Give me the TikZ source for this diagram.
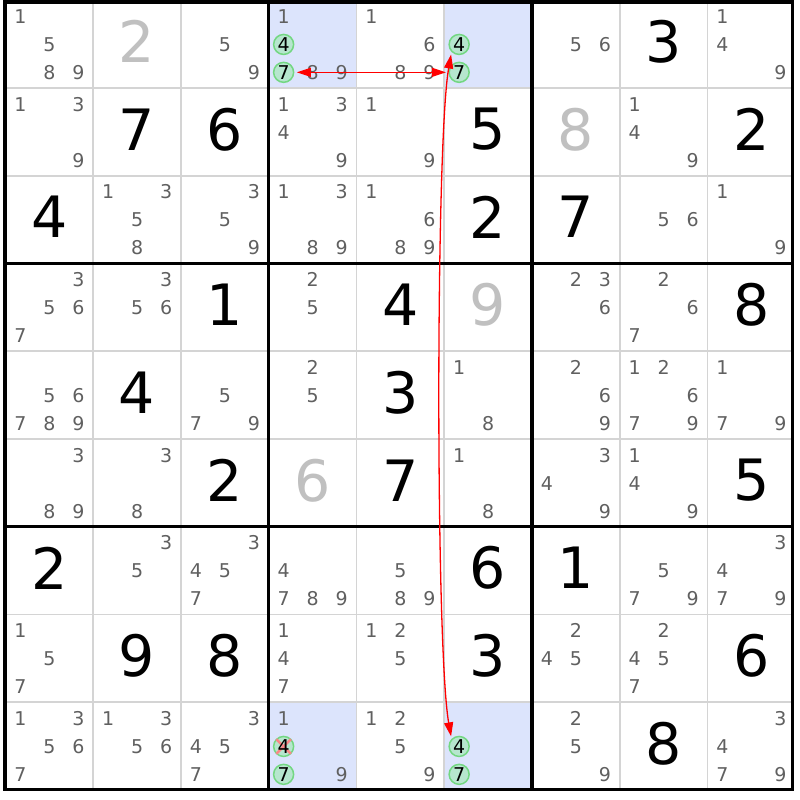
\documentclass[tikz,border=0pt]{standalone}
\usepackage{fontspec}
\setmainfont{DejaVu Sans}
\usetikzlibrary{arrows.meta}
\definecolor{candc}{RGB}{96,96,96}
\definecolor{givengray}{RGB}{192,192,192}
\definecolor{hlblue}{RGB}{220,228,252}
\definecolor{thinc}{RGB}{212,212,212}
\definecolor{cfill}{RGB}{182,230,206}
\definecolor{cdraw}{RGB}{115,215,130}
\definecolor{xred}{RGB}{250,135,135}
\tikzset{
  candtxt/.style={inner sep=0pt, text=candc, font=\fontsize{19}{19}\selectfont},
  circtxt/.style={inner sep=0pt, text=black, font=\fontsize{19}{19}\selectfont},
  givenblack/.style={inner sep=0pt, text=black, font=\fontsize{57}{57}\selectfont},
  givengrey/.style={inner sep=0pt, text=givengray, font=\fontsize{57}{57}\selectfont},
  hcirc/.style={circle, minimum size=20pt, inner sep=0pt, fill=cfill, draw=cdraw, line width=1.5pt},
  thinline/.style={draw=thinc, line width=1.6pt},
  thickline/.style={draw=black, line width=3.2pt},
  hlcell/.style={fill=hlblue},
  xcross/.style={draw=xred, line width=2.5pt, shorten <=0.5pt, shorten >=0.5pt},
  redarrow/.style={draw=red, line width=1.3pt, {Triangle[length=14pt,width=9pt]}-{Triangle[length=14pt,width=9pt]}, shorten <=2.5pt, shorten >=2.5pt}
}
\newcommand\putcands[3]{%
  \foreach \d in {#3}{%
    \pgfmathsetmacro\cx{5.5+87.75*#2+43.875+29*(mod(\d-1,3)-1)}%
    \pgfmathsetmacro\cy{799.75-87.75*#1-44.2-27.9*(floor((\d-1)/3)-1)}%
    \node[candtxt] (n-#1-#2-\d) at (\cx,\cy) {\d};%
  }}
\newcommand\putcirc[3]{%
  \pgfmathsetmacro\cx{5.5+87.75*#2+43.875+29*(mod(#3-1,3)-1)}%
  \pgfmathsetmacro\cy{799.75-87.75*#1-44.2-27.9*(floor((#3-1)/3)-1)}%
  \node[hcirc] (h-#1-#2-#3) at (\cx,\cy) {};}
\newcommand\putblack[3]{%
  \pgfmathsetmacro\cx{5.5+87.75*#2+43.875+29*(mod(#3-1,3)-1)}%
  \pgfmathsetmacro\cy{799.75-87.75*#1-44.2-27.9*(floor((#3-1)/3)-1)}%
  \node[circtxt] (n-#1-#2-#3) at (\cx,\cy) {#3};}
\newcommand\putgiven[4]{%
  \pgfmathsetmacro\gx{5.5+87.75*#2+43.875}%
  \pgfmathsetmacro\gy{799.75-87.75*#1-43.875+2.5}%
  \node[#4] (g-#1-#2) at (\gx,\gy) {#3};}
\newcommand\hlcellat[2]{%
  \fill[hlcell] ({5.5+87.75*#2},{799.75-87.75*(#1+1)}) rectangle ({5.5+87.75*(#2+1)},{799.75-87.75*#1});}
\begin{document}
\begin{tikzpicture}[x=1pt,y=1pt]
\useasboundingbox[fill=white] (0,0) rectangle (800,800);
% highlighted cells
\hlcellat{0}{3}\hlcellat{0}{5}\hlcellat{8}{3}\hlcellat{8}{5}
% thin grid lines
\foreach \c in {1,2,4,5,7,8}{
  \draw[thinline] ({5.5+87.75*\c},798) -- ({5.5+87.75*\c},10.5);
  \draw[thinline] (5,{799.75-87.75*\c}) -- (792.5,{799.75-87.75*\c});
}
% thick lines
\foreach \c in {3,6}{
  \draw[thickline] ({5.5+87.75*\c},798) -- ({5.5+87.75*\c},10.5);
  \draw[thickline] (5,{799.75-87.75*\c}) -- (792.5,{799.75-87.75*\c});
}
\draw[thickline] (5,10.5) rectangle (792.5,798);
% circles
\putcirc{0}{3}{4}\putcirc{0}{3}{7}
\putcirc{0}{5}{4}\putcirc{0}{5}{7}
\putcirc{8}{3}{4}\putcirc{8}{3}{7}
\putcirc{8}{5}{4}\putcirc{8}{5}{7}
% elimination cross
\draw[xcross] (h-8-3-4.north west) -- (h-8-3-4.south east);
\draw[xcross] (h-8-3-4.north east) -- (h-8-3-4.south west);
% circled digits
\putblack{0}{3}{4}\putblack{0}{3}{7}
\putblack{0}{5}{4}\putblack{0}{5}{7}
\putblack{8}{3}{4}\putblack{8}{3}{7}
\putblack{8}{5}{4}\putblack{8}{5}{7}
% given digits
\putgiven{0}{1}{2}{givengrey}
\putgiven{0}{7}{3}{givenblack}
\putgiven{1}{1}{7}{givenblack}
\putgiven{1}{2}{6}{givenblack}
\putgiven{1}{5}{5}{givenblack}
\putgiven{1}{6}{8}{givengrey}
\putgiven{1}{8}{2}{givenblack}
\putgiven{2}{0}{4}{givenblack}
\putgiven{2}{5}{2}{givenblack}
\putgiven{2}{6}{7}{givenblack}
\putgiven{3}{2}{1}{givenblack}
\putgiven{3}{4}{4}{givenblack}
\putgiven{3}{5}{9}{givengrey}
\putgiven{3}{8}{8}{givenblack}
\putgiven{4}{1}{4}{givenblack}
\putgiven{4}{4}{3}{givenblack}
\putgiven{5}{2}{2}{givenblack}
\putgiven{5}{3}{6}{givengrey}
\putgiven{5}{4}{7}{givenblack}
\putgiven{5}{8}{5}{givenblack}
\putgiven{6}{0}{2}{givenblack}
\putgiven{6}{5}{6}{givenblack}
\putgiven{6}{6}{1}{givenblack}
\putgiven{7}{1}{9}{givenblack}
\putgiven{7}{2}{8}{givenblack}
\putgiven{7}{5}{3}{givenblack}
\putgiven{7}{8}{6}{givenblack}
\putgiven{8}{7}{8}{givenblack}
% candidates
\putcands{0}{0}{1,5,8,9}\putcands{0}{2}{5,9}\putcands{0}{3}{1,8,9}\putcands{0}{4}{1,6,8,9}\putcands{0}{6}{5,6}\putcands{0}{8}{1,4,9}
\putcands{1}{0}{1,3,9}\putcands{1}{3}{1,3,4,9}\putcands{1}{4}{1,9}\putcands{1}{7}{1,4,9}
\putcands{2}{1}{1,3,5,8}\putcands{2}{2}{3,5,9}\putcands{2}{3}{1,3,8,9}\putcands{2}{4}{1,6,8,9}\putcands{2}{7}{5,6}\putcands{2}{8}{1,9}
\putcands{3}{0}{3,5,6,7}\putcands{3}{1}{3,5,6}\putcands{3}{3}{2,5}\putcands{3}{6}{2,3,6}\putcands{3}{7}{2,6,7}
\putcands{4}{0}{5,6,7,8,9}\putcands{4}{2}{5,7,9}\putcands{4}{3}{2,5}\putcands{4}{5}{1,8}\putcands{4}{6}{2,6,9}\putcands{4}{7}{1,2,6,7,9}\putcands{4}{8}{1,7,9}
\putcands{5}{0}{3,8,9}\putcands{5}{1}{3,8}\putcands{5}{5}{1,8}\putcands{5}{6}{3,4,9}\putcands{5}{7}{1,4,9}
\putcands{6}{1}{3,5}\putcands{6}{2}{3,4,5,7}\putcands{6}{3}{4,7,8,9}\putcands{6}{4}{5,8,9}\putcands{6}{7}{5,7,9}\putcands{6}{8}{3,4,7,9}
\putcands{7}{0}{1,5,7}\putcands{7}{3}{1,4,7}\putcands{7}{4}{1,2,5}\putcands{7}{6}{2,4,5}\putcands{7}{7}{2,4,5,7}
\putcands{8}{0}{1,3,5,6,7}\putcands{8}{1}{1,3,5,6}\putcands{8}{2}{3,4,5,7}\putcands{8}{3}{1,9}\putcands{8}{4}{1,2,5,9}\putcands{8}{6}{2,5,9}\putcands{8}{8}{3,4,7,9}
% links
\draw[redarrow] (h-0-3-7) -- (h-0-5-7);
\draw[redarrow] (h-0-5-4.-135) .. controls +(-16,-90) and +(-16,90) .. (h-8-5-4.135);
\end{tikzpicture}
\end{document}
